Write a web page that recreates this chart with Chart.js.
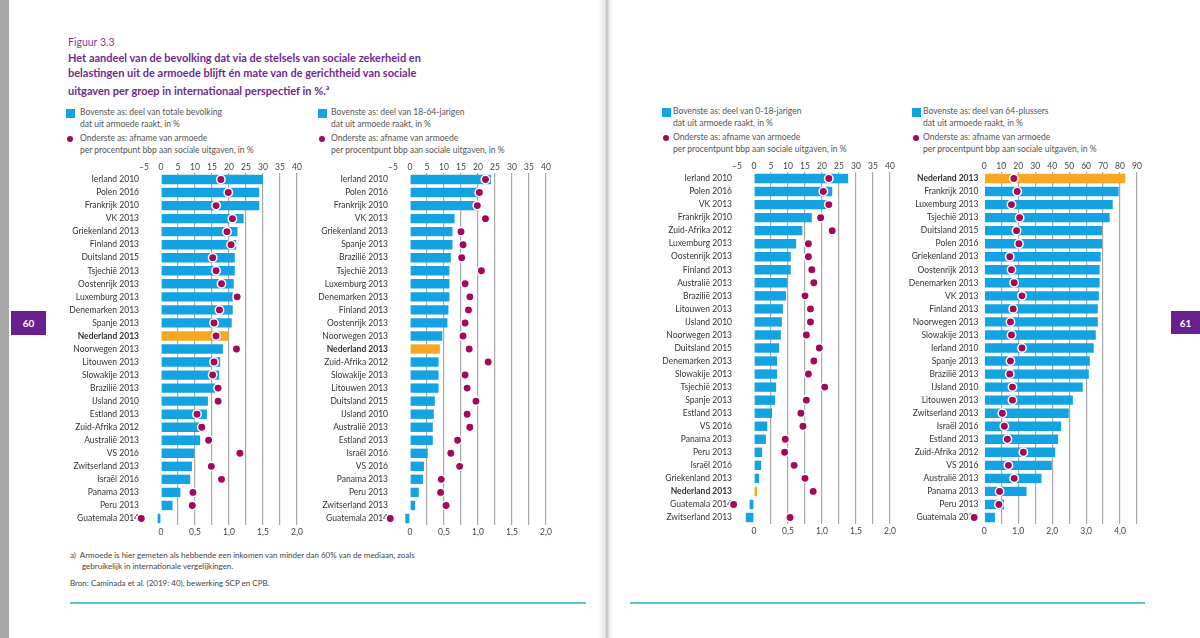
<!DOCTYPE html>
<html>
<head>
<meta charset="utf-8">
<script src="https://cdn.jsdelivr.net/npm/chart.js@4/dist/chart.umd.min.js"></script>
<style>
  body { margin: 0; width: 1200px; height: 638px; position: relative; overflow: hidden; background: #fff; font-family: Lato, "Open Sans", sans-serif; }
  .abs { position: absolute; white-space: nowrap; }
  .fig { left: 68px; top: 36px; font-size: 10.5px; color: #7d3f9c; }
  .title { left: 68px; top: 50px; font-size: 11px; font-weight: bold; color: #6d2b8e; line-height: 15px; }
  .leg { font-size: 8.5px; color: #555; line-height: 11.5px; }
  .sq { position: absolute; width: 9px; height: 9px; background: #13a3e3; }
  .dot { position: absolute; width: 6px; height: 6px; border-radius: 50%; background: #a3085c; }
  .note { font-size: 8px; color: #444; line-height: 10.5px; }
  .rule { position: absolute; height: 2px; background: #5bc3dd; }
  .pg { position: absolute; background: #6a1f8f; color: #fff; font-weight: bold; font-size: 10px; text-align: center; line-height: 24px; }
  canvas { position: absolute; }
</style>
</head>
<body>
<div class="abs" style="left:0;top:0;width:9px;height:638px;background:#a8a8a8;"></div>
<div class="abs" style="left:598px;top:0;width:16px;height:638px;background:linear-gradient(to right,#fff,#e6e6e6 45%,#bcbcbc 55%,#ececec 70%,#fff);"></div>

<div class="abs fig">Figuur 3.3</div>
<div class="abs title">Het aandeel van de bevolking dat via de stelsels van sociale zekerheid en<br>belastingen uit de armoede blijft én mate van de gerichtheid van sociale<br>uitgaven per groep in internationaal perspectief in %.<sup style="font-size:7px">a</sup></div>

<div class="sq" style="left:66px;top:109px;"></div>
<div class="abs leg" style="left:80px;top:107px;">Bovenste as: deel van totale bevolking<br>dat uit armoede raakt, in %</div>
<div class="dot" style="left:67px;top:136px;"></div>
<div class="abs leg" style="left:80px;top:133px;">Onderste as: afname van armoede<br>per procentpunt bbp aan sociale uitgaven, in %</div>

<div class="sq" style="left:318px;top:109px;"></div>
<div class="abs leg" style="left:331px;top:107px;">Bovenste as: deel van 18-64-jarigen<br>dat uit armoede raakt, in %</div>
<div class="dot" style="left:319px;top:136px;"></div>
<div class="abs leg" style="left:331px;top:133px;">Onderste as: afname van armoede<br>per procentpunt bbp aan sociale uitgaven, in %</div>

<div class="sq" style="left:662px;top:108px;"></div>
<div class="abs leg" style="left:673px;top:106px;">Bovenste as: deel van 0-18-jarigen<br>dat uit armoede raakt, in %</div>
<div class="dot" style="left:663px;top:135px;"></div>
<div class="abs leg" style="left:673px;top:132px;">Onderste as: afname van armoede<br>per procentpunt bbp aan sociale uitgaven, in %</div>

<div class="sq" style="left:912px;top:108px;"></div>
<div class="abs leg" style="left:923px;top:106px;">Bovenste as: deel van 64-plussers<br>dat uit armoede raakt, in %</div>
<div class="dot" style="left:913px;top:135px;"></div>
<div class="abs leg" style="left:923px;top:132px;">Onderste as: afname van armoede<br>per procentpunt bbp aan sociale uitgaven, in %</div>

<canvas id="c1" width="245" height="381" style="left:60px;top:158px;"></canvas>
<canvas id="c2" width="249" height="381" style="left:305px;top:158px;"></canvas>
<canvas id="c3" width="243" height="381" style="left:655px;top:157px;"></canvas>
<canvas id="c4" width="245" height="381" style="left:900px;top:157px;"></canvas>

<div class="abs note" style="left:70px;top:550px;">a)&nbsp; Armoede is hier gemeten als hebbende een inkomen van minder dan 60% van de mediaan, zoals</div>
<div class="abs note" style="left:82px;top:561px;">gebruikelijk in internationale vergelijkingen.</div>
<div class="abs note" style="left:70px;top:578px;">Bron: Caminada et al. (2019: 40), bewerking SCP en CPB.</div>
<div class="rule" style="left:70px;top:602px;width:516px;"></div>
<div class="rule" style="left:630px;top:602px;width:515px;"></div>

<div class="pg" style="left:11px;top:311px;width:35px;height:24px;">60</div>
<div class="pg" style="left:1171px;top:311px;width:29px;height:23px;">61</div>

<script>
// totale bevolking
const labels1 = ['Ierland 2010', 'Polen 2016', 'Frankrijk 2010', 'VK 2013', 'Griekenland 2013', 'Finland 2013', 'Duitsland 2015', 'Tsjechië 2013', 'Oostenrijk 2013', 'Luxemburg 2013', 'Denemarken 2013', 'Spanje 2013', 'Nederland 2013', 'Noorwegen 2013', 'Litouwen 2013', 'Slowakije 2013', 'Brazilië 2013', 'IJsland 2010', 'Estland 2013', 'Zuid-Afrika 2012', 'Australië 2013', 'VS 2016', 'Zwitserland 2013', 'Israël 2016', 'Panama 2013', 'Peru 2013', 'Guatemala 2014'];
const bars1 = [30, 28.9, 28.9, 24.3, 22.5, 22.1, 21.7, 21.7, 21.4, 21.1, 21.1, 20.8, 19.8, 18.2, 17.4, 17.1, 15.9, 13.8, 13.5, 12.5, 11.5, 9.8, 9.1, 8.6, 5.7, 3.4, -1.0];
const dots1 = [0.88, 0.99, 0.81, 1.05, 0.97, 1.03, 0.76, 0.81, 0.89, 1.12, 0.86, 0.78, 0.81, 1.11, 0.78, 0.76, 0.84, 0.84, 0.53, 0.60, 0.70, 1.16, 0.74, 0.89, 0.47, 0.46, -0.29];

// 18-64-jarigen
const labels2 = ['Ierland 2010', 'Polen 2016', 'Frankrijk 2010', 'VK 2013', 'Griekenland 2013', 'Spanje 2013', 'Brazilië 2013', 'Tsjechië 2013', 'Luxemburg 2013', 'Denemarken 2013', 'Finland 2013', 'Oostenrijk 2013', 'Noorwegen 2013', 'Nederland 2013', 'Zuid-Afrika 2012', 'Slowakije 2013', 'Litouwen 2013', 'Duitsland 2015', 'IJsland 2010', 'Australië 2013', 'Estland 2013', 'Israël 2016', 'VS 2016', 'Panama 2013', 'Peru 2013', 'Zwitserland 2013', 'Guatemala 2014'];
const bars2 = [23.8, 21, 20, 13.1, 12.5, 12.5, 12, 11.6, 11.6, 11.6, 11.3, 11, 9.5, 8.8, 8.4, 8.4, 8.4, 7.3, 7.0, 6.7, 6.7, 5.2, 4.1, 3.8, 2.6, 1.5, -1.4];
const dots2 = [1.11, 1.02, 0.99, 1.11, 0.75, 0.78, 0.76, 1.05, 0.81, 0.88, 0.86, 0.81, 0.78, 0.87, 1.15, 0.81, 0.84, 0.97, 0.84, 0.88, 0.70, 0.60, 0.73, 0.46, 0.45, 0.53, -0.29];

// 0-18-jarigen
const labels3 = ['Ierland 2010', 'Polen 2016', 'VK 2013', 'Frankrijk 2010', 'Zuid-Afrika 2012', 'Luxemburg 2013', 'Oostenrijk 2013', 'Finland 2013', 'Australië 2013', 'Brazilië 2013', 'Litouwen 2013', 'IJsland 2010', 'Noorwegen 2013', 'Duitsland 2015', 'Denemarken 2013', 'Slowakije 2013', 'Tsjechië 2013', 'Spanje 2013', 'Estland 2013', 'VS 2016', 'Panama 2013', 'Peru 2013', 'Israël 2016', 'Griekenland 2013', 'Nederland 2013', 'Guatemala 2014', 'Zwitserland 2013'];
const bars3 = [27.7, 23, 22.3, 17, 14.2, 12.4, 10.8, 10.8, 9.8, 9.4, 8.5, 8.2, 7.9, 7.4, 6.8, 6.8, 6.5, 6.2, 5.3, 3.9, 3.5, 2.4, 2.1, 1.5, 0.9, -1.3, -2.4];
const dots3 = [1.10, 1.02, 1.10, 0.98, 1.15, 0.80, 0.80, 0.85, 0.88, 0.75, 0.83, 0.83, 0.77, 0.96, 0.88, 0.80, 1.04, 0.77, 0.69, 0.72, 0.46, 0.45, 0.59, 0.75, 0.87, -0.30, 0.53];

// 64-plussers
const labels4 = ['Nederland 2013', 'Frankrijk 2010', 'Luxemburg 2013', 'Tsjechië 2013', 'Duitsland 2015', 'Polen 2016', 'Griekenland 2013', 'Oostenrijk 2013', 'Denemarken 2013', 'VK 2013', 'Finland 2013', 'Noorwegen 2013', 'Slowakije 2013', 'Ierland 2010', 'Spanje 2013', 'Brazilië 2013', 'IJsland 2010', 'Litouwen 2013', 'Zwitserland 2013', 'Israël 2016', 'Estland 2013', 'Zuid-Afrika 2012', 'VS 2016', 'Australië 2013', 'Panama 2013', 'Peru 2013', 'Guatemala 2014'];
const bars4 = [83.1, 79.2, 75.7, 73.9, 69.4, 69.4, 68.6, 68, 68, 67.5, 66.9, 66.9, 65.7, 64.5, 62.2, 61.6, 58, 52.2, 49.8, 45.3, 43.5, 41.8, 39.8, 33.7, 24.9, 11.6, 6.3];
const dots4 = [0.87, 0.97, 0.80, 1.04, 0.95, 1.02, 0.75, 0.80, 0.88, 1.11, 0.85, 0.77, 0.80, 1.11, 0.77, 0.75, 0.83, 0.83, 0.53, 0.59, 0.68, 1.15, 0.71, 0.88, 0.45, 0.43, -0.30];

const topTicks = [-5, 0, 5, 10, 15, 20, 25, 30, 35, 40];
const botTicks = [0, 0.5, 1, 1.5, 2];
const topTicks4 = [0, 10, 20, 30, 40, 50, 60, 70, 80, 90];
const botTicks4 = [0, 1, 2, 3, 4];

const BLUE = '#13a3e3', ORANGE = '#f7a823', DOT = '#a3085c';
const FONT = 'Lato, "Open Sans", sans-serif';

function topLabel(v) {
    return v < 0 ? '\u2013' + Math.abs(v) : String(v);
}
function botLabel(v) {
    return v === 0 ? '0' : v.toFixed(1).replace('.', ',');
}

// bottom axis is the top axis divided by 20, so both zeros line up
function makePanel(id, labels, bars, dots, tTicks, bTicks, topMin, topMax, yWidth, yPad) {
    var ctx = document.getElementById(id).getContext('2d');
    return new Chart(ctx, {
        type: 'bar',
        data: {
            labels: labels,
            datasets: [{
                data: bars,
                xAxisID: 'xTop',
                backgroundColor: labels.map(l => l === 'Nederland 2013' ? ORANGE : BLUE),
                barPercentage: 0.72,
                categoryPercentage: 1,
                order: 2
            }, {
                type: 'line',
                indexAxis: 'y',
                data: dots,
                xAxisID: 'xBot',
                showLine: false,
                pointRadius: 4.2,
                pointBorderWidth: 1.5,
                pointBackgroundColor: DOT,
                pointBorderColor: '#fff',
                clip: false,
                order: 1
            }]
        },
        options: {
            indexAxis: 'y',
            responsive: false,
            animation: false,
            layout: { padding: { right: 8 } },
            plugins: { legend: { display: false }, tooltip: { enabled: false } },
            scales: {
                y: {
                    grid: { display: false, drawTicks: false },
                    border: { display: false },
                    ticks: {
                        autoSkip: false,
                        padding: yPad,
                        color: '#333',
                        font: c => ({ family: FONT, size: 8.5, weight: labels[c.index] === 'Nederland 2013' ? 'bold' : 'normal' })
                    },
                    afterFit: s => { s.width = yWidth; }
                },
                xTop: {
                    type: 'linear',
                    position: 'top',
                    min: topMin,
                    max: topMax,
                    afterBuildTicks: s => { s.ticks = tTicks.map(v => ({ value: v })); },
                    grid: {
                        drawTicks: false,
                        lineWidth: 1.2,
                        color: c => c.tick && c.tick.value > 0 ? '#a8a8a8' : 'rgba(0,0,0,0)'
                    },
                    border: { display: false },
                    ticks: { autoSkip: false, padding: 1, color: '#444', font: { family: FONT, size: 8.5 }, callback: v => topLabel(v) },
                    afterFit: s => { s.height = 15; }
                },
                xBot: {
                    type: 'linear',
                    position: 'bottom',
                    min: topMin / 20,
                    max: topMax / 20,
                    afterBuildTicks: s => { s.ticks = bTicks.map(v => ({ value: v })); },
                    grid: { display: false, drawTicks: false },
                    border: { display: false },
                    ticks: { autoSkip: false, padding: 2, color: '#444', font: { family: FONT, size: 8.5 }, callback: v => botLabel(v) },
                    afterFit: s => { s.height = 14; }
                }
            }
        }
    });
}

makePanel('c1', labels1, bars1, dots1, topTicks, botTicks, -5, 40, 84, 5);
makePanel('c2', labels2, bars2, dots2, topTicks, botTicks, -5, 40, 88, 5);
makePanel('c3', labels3, bars3, dots3, topTicks, botTicks, -5, 40, 82, 5);
// a little room left of zero so the Guatemala dot is still drawn
makePanel('c4', labels4, bars4, dots4, topTicks4, botTicks4, -3.5, 90, 78.4, 0);
</script>
</body>
</html>
